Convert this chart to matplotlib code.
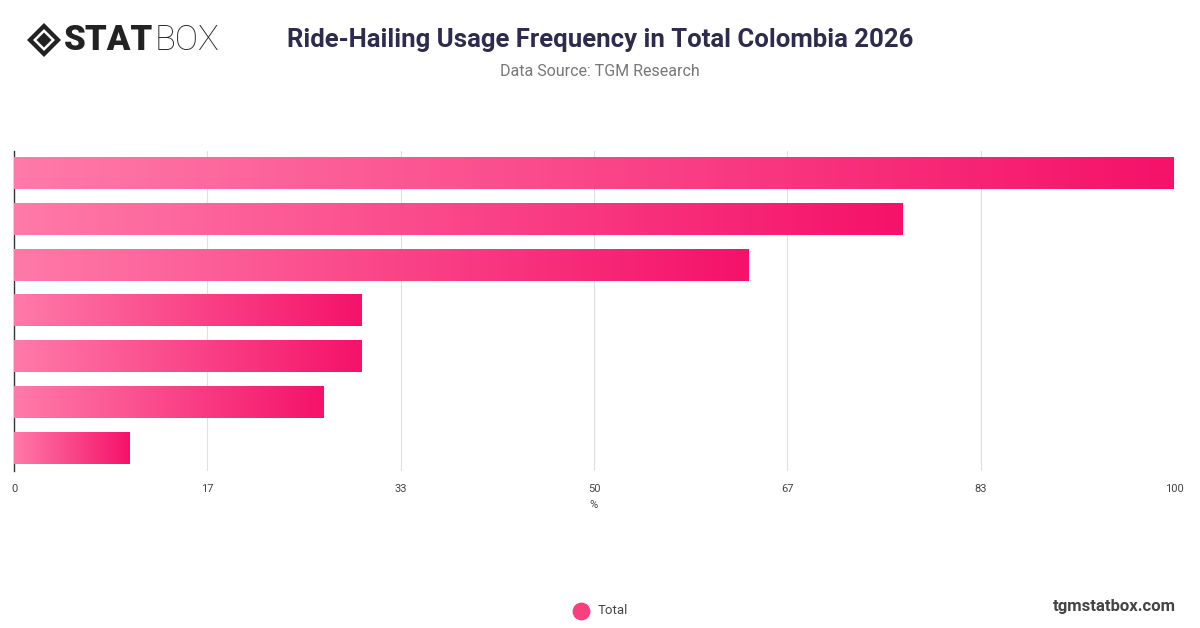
import numpy as np
import matplotlib
matplotlib.use("Agg")
import matplotlib.pyplot as plt
from matplotlib.colors import LinearSegmentedColormap
from matplotlib.patches import Polygon

categories = ["A", "B", "C", "D", "E", "F", "G"]
values = [100.0, 76.6, 63.3, 30.0, 30.0, 26.7, 10.0]
tick_vals = [0, 100/6, 200/6, 50, 400/6, 500/6, 100]
tick_labels = ["0", "17", "33", "50", "67", "83", "100"]

plt.rcParams['font.family'] = ['Roboto', 'DejaVu Sans']

W, H = 1200, 628
fig = plt.figure(figsize=(W/100, H/100), dpi=100)
ax = fig.add_axes([14/W, 1-471/H, (1174-14)/W, (471-150.5)/H])

cmap = LinearSegmentedColormap.from_list("pk", ["#ff7aa8", "#f5126a"])
grad = np.linspace(0, 1, 256).reshape(1, -1)
n = len(values)
bh = 0.68
for i, v in enumerate(values):
    y = i
    ax.imshow(grad, cmap=cmap, aspect='auto', extent=[0, v, y + bh/2, y - bh/2],
              interpolation='bilinear', zorder=3)

ax.set_xlim(0, 100)
ax.set_ylim(n - 0.5, -0.5)
ax.set_xticks(tick_vals)
ax.set_xticklabels(tick_labels, fontsize=8, color="#444444")
ax.tick_params(axis='x', length=0, pad=9)
ax.set_yticks([])
ax.grid(axis='x', color="#e0e0e0", linewidth=0.8, zorder=0)
for s in ['top', 'right', 'bottom']:
    ax.spines[s].set_visible(False)
ax.spines['left'].set_color("#333333")
ax.spines['left'].set_linewidth(1)
ax.spines['left'].set_zorder(2)
ax.set_xlabel("%", fontsize=8, color="#444444", labelpad=5)

# Title & subtitle
fig.text(600/W, 1-40/H, "Ride-Hailing Usage Frequency in Total Colombia 2026",
         ha='center', va='center', fontsize=18.5, fontweight='bold', color="#2e2b4d")
fig.text(600/W, 1-71/H, "Data Source: TGM Research", ha='center', va='center',
         fontsize=11.5, color="#777777")

# Logo
cx, cy, r = 44, 40, 17
def diamond(rr):
    return [((cx - rr)/W, 1-cy/H), (cx/W, 1-(cy-rr)/H), ((cx + rr)/W, 1-cy/H), (cx/W, 1-(cy+rr)/H)]
fig.patches.append(Polygon(diamond(17), closed=True, transform=fig.transFigure, facecolor="#222222"))
fig.patches.append(Polygon(diamond(11), closed=True, transform=fig.transFigure, facecolor="white"))
fig.patches.append(Polygon(diamond(7.5), closed=True, transform=fig.transFigure, facecolor="#222222"))
t1 = fig.text(64/W, 1-40/H, "STAT", ha='left', va='center', fontsize=25,
              fontweight='black', color="#222222")
fig.canvas.draw()
bb = t1.get_window_extent()
fig.text(bb.x1/W + 1/W, 1-40/H, "BOX", ha='left', va='center', fontsize=25,
         fontweight='light', color="#222222")

# Legend
ax_leg = fig.add_axes([0, 0, 1, 1], facecolor='none')
ax_leg.set_xlim(0, W); ax_leg.set_ylim(H, 0); ax_leg.axis('off')
ax_leg.scatter([581], [611], s=140, color="#f7407f", zorder=3)
fig.text(598/W, 1-611/H, "Total", ha='left', va='center', fontsize=9.5, color="#444444")

fig.text(1176/W, 1-606/H, "tgmstatbox.com", ha='right', va='center', fontsize=12,
         fontweight='bold', color="#444444")

fig.savefig("out.png", dpi=100)
